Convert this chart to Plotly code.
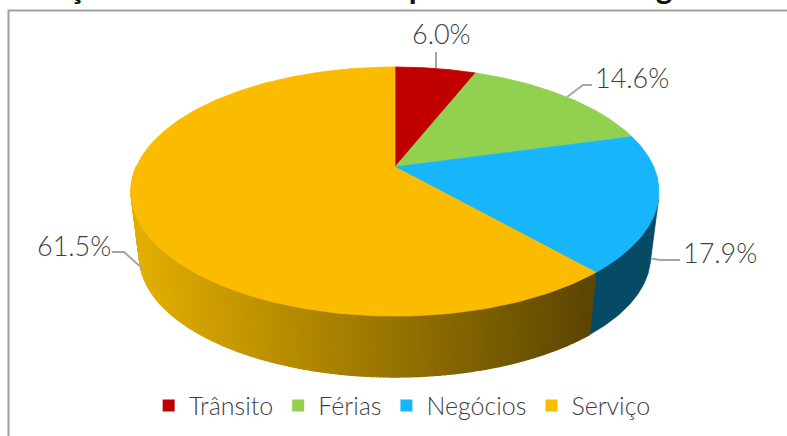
import numpy as np
import plotly.graph_objects as go

categories = ["Trânsito", "Férias", "Negócios", "Serviço"]
values = [6.0, 14.6, 17.9, 61.5]
top_colors = ["#C00000", "#92D050", "#17B6FA", "#FBBC00"]
wall_colors = {"Negócios": "#064A66"}
title_text = "Distribuição de unidade e dados por motivo de viagem - 2016"

W, H = 787, 436
CX, CY = 395.0, 167.0          # apex of the pie on screen
A, B, K = 119.7, 258.8, 0.197  # perspective projection of the disc
S, YV = 0.968, 2222.0          # convergence of the wall towards the lower rim
GRAD_L = np.array([226, 174, 0])
GRAD_R = np.array([92, 70, 0])


def project(theta):
    u, v = np.sin(theta), np.cos(theta)
    d = 1 + K * v
    return CX + B * u / d, CY - A * v / d


def lower(x, y):
    return CX + (x - CX) * S, YV + (y - YV) * S


total = sum(values)
edges = np.concatenate([[0], np.cumsum(values)]) / total * 2 * np.pi

fig = go.Figure()


def fill(x, y, color, lw=0.8):
    fig.add_trace(go.Scatter(x=x, y=y, mode="lines", fill="toself", fillcolor=color,
                             line=dict(color=color, width=lw), hoverinfo="skip",
                             showlegend=False))


def silhouette_angle(t0, t1):
    """Angle where the wall's vertical edge is tangent to the top rim."""
    tt = np.linspace(t0, t1, 800)
    x, y = project(tt)
    xl, yl = lower(x, y)
    dx, dy = np.gradient(x, tt), np.gradient(y, tt)
    return tt[np.argmin(np.abs(dx * (yl - y) - dy * (xl - x)))]


# walls
for i, cat in enumerate(categories):
    t0, t1 = edges[i], edges[i + 1]
    if cat in wall_colors:
        tt = np.linspace(silhouette_angle(t0, t1), t1, 80)
        x, y = project(tt)
        xl, yl = lower(x, y)
        fill(np.r_[x, xl[::-1], x[0]], np.r_[y, yl[::-1], y[0]], wall_colors[cat])
        continue
    n = max(2, int((t1 - t0) / np.radians(0.7)))
    ts = np.linspace(t0, t1, n + 1)
    for a, b in zip(ts[:-1], ts[1:]):
        if np.cos((a + b) / 2) > 0:
            continue
        tt = np.linspace(a, b, 3)
        x, y = project(tt)
        xl, yl = lower(x, y)
        f = np.clip((x.mean() - 139) / (594 - 139), 0, 1)
        rgb = GRAD_L + (GRAD_R - GRAD_L) * f
        fill(np.r_[x, xl[::-1], x[0]], np.r_[y, yl[::-1], y[0]], "rgb(%d,%d,%d)" % tuple(rgb), lw=1.2)

# top surface
for i, cat in enumerate(categories):
    tt = np.linspace(edges[i], edges[i + 1], 200)
    x, y = project(tt)
    fill(np.r_[CX, x, CX], np.r_[CY, y, CY], top_colors[i])

# leader lines
leaders = [
    ([436, 436], [52, 68]),
    ([592, 583, 567], [85, 85, 97]),
    ([680, 660, 651], [260, 260, 258.5]),
    ([112, 124, 143], [252, 252, 269]),
]
for lx, ly in leaders:
    fig.add_trace(go.Scatter(x=lx, y=ly, mode="lines", line=dict(color="#A6A6A6", width=2),
                             hoverinfo="skip", showlegend=False))

# frame
fig.add_trace(go.Scatter(x=[8.5, 8.5, W], y=[H, 10.5, 10.5], mode="lines",
                         line=dict(color="#A0A0A0", width=2), hoverinfo="skip", showlegend=False))

# legend entries
for cat, col in zip(categories, top_colors):
    fig.add_trace(go.Scatter(x=[None], y=[None], mode="markers", name=cat,
                             marker=dict(symbol="square", size=13, color=col)))

label_pos = [(441.5, 33), (632, 77), (720, 252), (74, 245)]
annotations = [dict(x=px, y=py, text=f"{v:.1f}%", showarrow=False, xanchor="center", yanchor="middle",
                    font=dict(family="Lato Light, Lato", size=27, color="#3F3F3F"))
               for (px, py), v in zip(label_pos, values)]
annotations.append(dict(x=382, y=8, text=f"<b>{title_text}</b>", showarrow=False, xanchor="center",
                        yanchor="bottom", font=dict(family="Lato", size=32, color="#111111")))

fig.update_layout(
    width=W, height=H, margin=dict(l=0, r=0, t=0, b=0), paper_bgcolor="white", plot_bgcolor="white",
    xaxis=dict(range=[0, W], visible=False, fixedrange=True),
    yaxis=dict(range=[H, 0], visible=False, fixedrange=True),
    annotations=annotations,
    legend=dict(orientation="h", x=0.511, xanchor="center", y=0.0165, yanchor="bottom",
                font=dict(family="Lato Light, Lato", size=25, color="#3F3F3F"), bgcolor="rgba(0,0,0,0)",
                itemsizing="constant", tracegroupgap=0),
)
fig.write_html("out.html", config=dict(displayModeBar=False),
               post_script="document.body.style.margin='0';document.body.style.overflow='hidden';")
